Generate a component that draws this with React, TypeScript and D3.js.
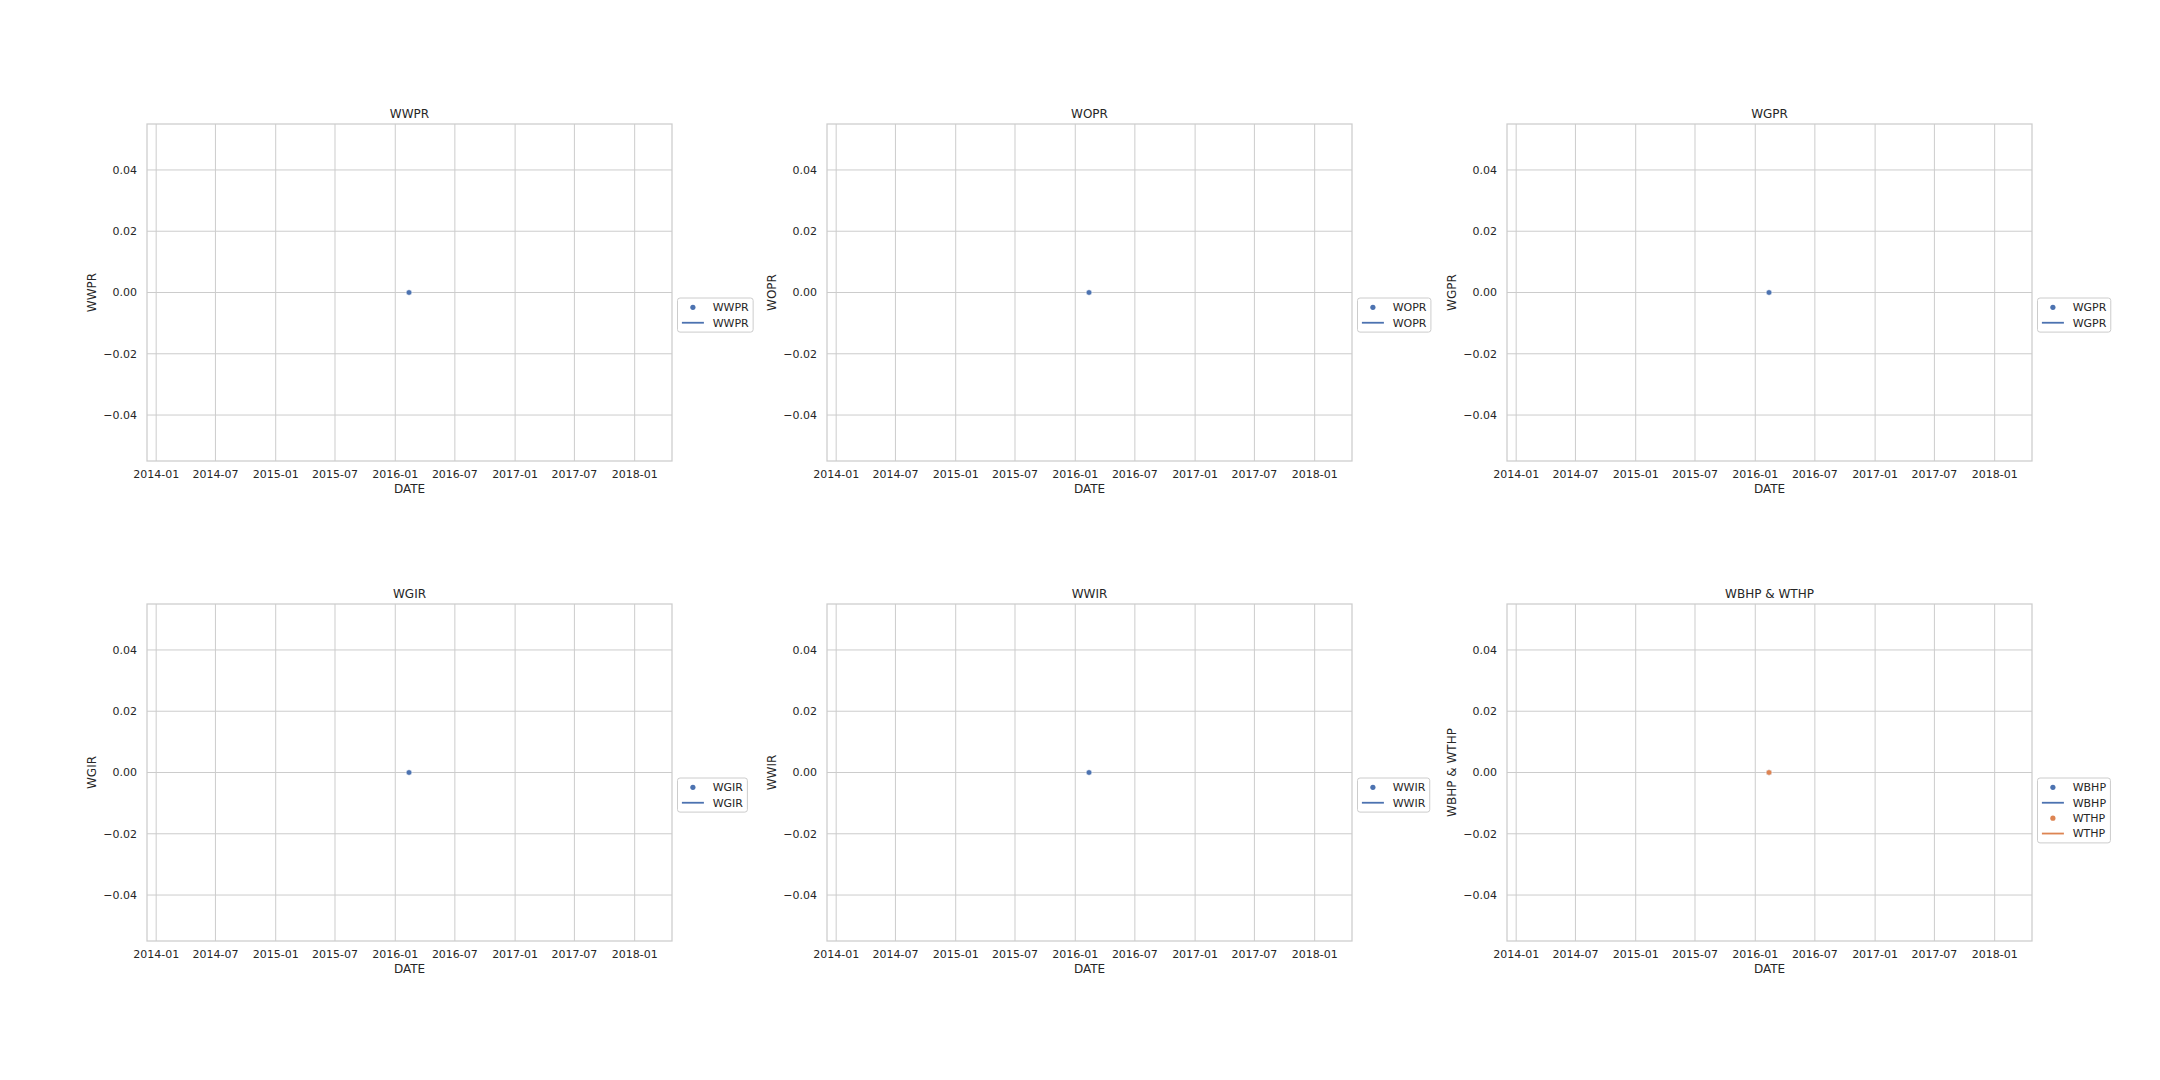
import * as d3 from "d3";

// --- data ---
const dates = ["2016-02-12"];
const wwpr = [0];
const wopr = [0];
const wgpr = [0];
const wgir = [0];
const wwir = [0];
const wbhp = [0];
const wthp = [0];

const xDomain = ["2013-12-04", "2018-04-25"];
const yDomain = [-0.055, 0.055];
const yTicks = [-0.04, -0.02, 0, 0.02, 0.04];

const panelTitles = ["WWPR", "WOPR", "WGPR", "WGIR", "WWIR", "WBHP & WTHP"];

const BLUE = "#4C72B0";
const ORANGE = "#DD8452";
const INK = "#262626";
const GRID = "#cccccc";
const FONT = "DejaVu Sans, Liberation Sans, sans-serif";

type Series = { name: string; color: string; values: number[] };

const panelSeries: Series[][] = [
    [{ name: "WWPR", color: BLUE, values: wwpr }],
    [{ name: "WOPR", color: BLUE, values: wopr }],
    [{ name: "WGPR", color: BLUE, values: wgpr }],
    [{ name: "WGIR", color: BLUE, values: wgir }],
    [{ name: "WWIR", color: BLUE, values: wwir }],
    [
        { name: "WBHP", color: BLUE, values: wbhp },
        { name: "WTHP", color: ORANGE, values: wthp },
    ],
];

const parse = d3.timeParse("%Y-%m-%d");
const fmtDate = d3.timeFormat("%Y-%m");
const fmtY = d3.format(".2f");

const W = 525;
const H = 337;
const colLefts = [147, 827, 1507];
const rowTops = [124, 604];

let ctx: CanvasRenderingContext2D | null = null;
function textWidth(s: string, size: number) {
    if (!ctx) ctx = document.createElement("canvas").getContext("2d");
    if (!ctx) return s.length * size * 0.75;
    ctx.font = `${size}px "DejaVu Sans"`;
    return ctx.measureText(s).width;
}

function Panel({ left, top, title, series }: { left: number; top: number; title: string; series: Series[] }) {
    const x = d3
        .scaleTime()
        .domain(xDomain.map((d) => parse(d)!))
        .range([left, left + W]);
    const y = d3.scaleLinear().domain(yDomain).range([top + H, top]);
    const xTicks = x.ticks(d3.timeMonth.every(6)!);
    const pts = dates.map((d) => parse(d)!);

    const line = d3
        .line<number>()
        .defined((v) => v != null)
        .x((_, i) => x(pts[i]))
        .y((v) => y(v));

    // legend (upper left anchored at right edge, mid height)
    const fs = 11;
    const lgLeft = left + W + 0.5 * fs;
    const lgTop = top + H / 2 + 0.5 * fs;
    const labels = series.flatMap((s) => [s.name, s.name]);
    const maxW = d3.max(labels, (l) => textWidth(l, fs)) ?? 30;
    const rowH = 0.9 * fs;
    const lgW = 0.4 * fs + 2 * fs + 0.8 * fs + maxW + 0.4 * fs;
    const lgH = 0.8 * fs + labels.length * rowH + (labels.length - 1) * 0.5 * fs;

    return (
        <g>
            {/* grid */}
            {xTicks.map((t) => (
                <line key={+t} x1={x(t)} x2={x(t)} y1={top} y2={top + H} stroke={GRID} strokeWidth={1} />
            ))}
            {yTicks.map((t) => (
                <line key={t} x1={left} x2={left + W} y1={y(t)} y2={y(t)} stroke={GRID} strokeWidth={1} />
            ))}
            <rect x={left} y={top} width={W} height={H} fill="none" stroke={GRID} strokeWidth={1.25} />

            {/* tick labels */}
            {xTicks.map((t) => (
                <text key={+t} x={x(t)} y={top + H + 17} textAnchor="middle" fontSize={11} fill={INK}>
                    {fmtDate(t)}
                </text>
            ))}
            {yTicks.map((t) => (
                <text key={t} x={left - 10} y={y(t)} dy="0.35em" textAnchor="end" fontSize={11} fill={INK}>
                    {fmtY(t)}
                </text>
            ))}

            {/* labels */}
            <text x={left + W / 2} y={top - 6.5} textAnchor="middle" fontSize={12} fill={INK}>
                {title}
            </text>
            <text x={left + W / 2} y={top + H + 32} textAnchor="middle" fontSize={12} fill={INK}>
                DATE
            </text>
            <text
                transform={`translate(${left - 55},${top + H / 2}) rotate(-90)`}
                textAnchor="middle"
                dy="0.35em"
                fontSize={12}
                fill={INK}
            >
                {title}
            </text>

            {/* marks */}
            {series.map((s) => (
                <g key={s.name}>
                    <path d={line(s.values) ?? ""} fill="none" stroke={s.color} strokeWidth={1.5} />
                    {s.values.map((v, i) => (
                        <circle key={i} cx={x(pts[i])} cy={y(v)} r={2.8} fill={s.color} stroke="#fff" strokeWidth={0.5} />
                    ))}
                </g>
            ))}

            {/* legend */}
            <g>
                <rect x={lgLeft} y={lgTop} width={lgW} height={lgH} rx={2.5} fill="#fff" fillOpacity={0.8} stroke={GRID} strokeWidth={1} />
                {labels.map((l, i) => {
                    const s = series[Math.floor(i / 2)];
                    const cy = lgTop + 0.4 * fs + rowH / 2 + i * (rowH + 0.5 * fs);
                    const hx = lgLeft + 0.4 * fs;
                    return (
                        <g key={i}>
                            {i % 2 === 0 ? (
                                <circle cx={hx + fs} cy={cy} r={2.6} fill={s.color} />
                            ) : (
                                <line x1={hx} x2={hx + 2 * fs} y1={cy} y2={cy} stroke={s.color} strokeWidth={1.8} />
                            )}
                            <text x={hx + 2.8 * fs} y={cy} dy="0.35em" fontSize={fs} fill={INK}>
                                {l}
                            </text>
                        </g>
                    );
                })}
            </g>
        </g>
    );
}

export default function App() {
    return (
        <svg
            width={2160}
            height={1080}
            style={{ position: "absolute", left: 0, top: 0, background: "#fff", fontFamily: FONT }}
        >
            <rect width={2160} height={1080} fill="#fff" />
            {panelTitles.map((t, i) => (
                <Panel
                    key={t}
                    left={colLefts[i % 3]}
                    top={rowTops[Math.floor(i / 3)]}
                    title={t}
                    series={panelSeries[i]}
                />
            ))}
        </svg>
    );
}
